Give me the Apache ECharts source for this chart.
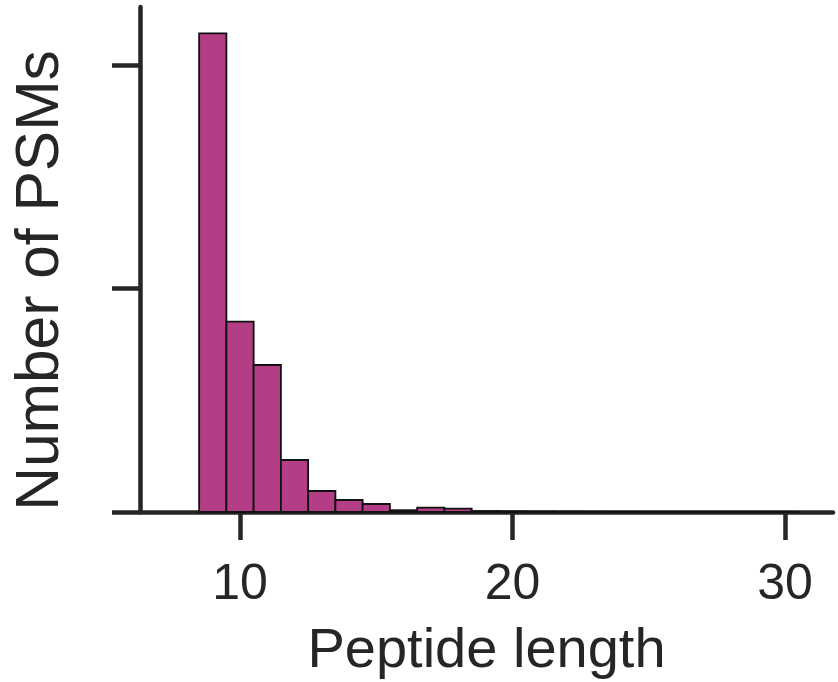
<!DOCTYPE html>
<html>
<head>
<meta charset="utf-8">
<script src="https://cdn.jsdelivr.net/npm/echarts@6/dist/echarts.min.js"></script>
<style>html,body{margin:0;padding:0;background:#fff;}#c{width:838px;height:682px;}</style>
</head>
<body>
<div id="c"></div>
<script>
// Peptide length histogram (bins centred on integer lengths)
const lengths = [9, 10, 11, 12, 13, 14, 15, 16, 17, 18, 19, 20, 21, 22, 23, 24, 25, 26, 27, 28, 29, 30];
const counts  = [10710, 4257, 3289, 1163, 470, 268, 179, 40, 100, 75, 20, 15, 10, 8, 6, 5, 4, 3, 3, 2, 2, 2];
const xTicks = [10, 20, 30];
const yTicks = [0, 5000, 10000];

const ink = '#262626';
const chart = echarts.init(document.getElementById('c'));
chart.setOption({
  animation: false,
  backgroundColor: '#fff',
  grid: { left: 140, right: 5, top: 7, bottom: 170, containLabel: false, outerBoundsMode: 'none' },
  xAxis: {
    type: 'value', min: 6.33, max: 31.76,
    name: 'Peptide length', nameLocation: 'middle', nameGap: 112,
    nameTextStyle: { fontFamily: 'Liberation Sans', fontSize: 56, color: ink },
    axisLine: { show: true, lineStyle: { color: ink, width: 4.5 } },
    axisTick: { show: true, length: 28, lineStyle: { color: ink, width: 4.5 }, customValues: xTicks },
    axisLabel: { customValues: xTicks, fontFamily: 'Liberation Sans', fontSize: 50, color: ink, margin: 48 },
    splitLine: { show: false }
  },
  yAxis: {
    type: 'value', min: 0, max: 11298,
    name: 'Number of PSMs', nameLocation: 'middle', nameGap: 68,
    nameTextStyle: { fontFamily: 'Liberation Sans', fontSize: 60.5, color: ink, padding: [0, 42, 0, 0] },
    axisLine: { show: true, lineStyle: { color: ink, width: 4.5 } },
    axisTick: { show: true, length: 28, lineStyle: { color: ink, width: 4.5 }, customValues: yTicks },
    axisLabel: { show: false, customValues: yTicks },
    splitLine: { show: false }
  },
  series: [{
    type: 'custom',
    data: lengths.map((l, i) => [l, counts[i]]),
    renderItem: function (params, api) {
      const x = api.value(0), y = api.value(1);
      const p0 = api.coord([x - 0.5, y]);
      const p1 = api.coord([x + 0.5, 0]);
      return {
        type: 'rect',
        shape: { x: p0[0], y: p0[1], width: p1[0] - p0[0], height: p1[1] - p0[1] },
        style: { fill: '#b43e86', stroke: '#111', lineWidth: 1.8 }
      };
    },
    z: 1
  }]
});
</script>
</body>
</html>
